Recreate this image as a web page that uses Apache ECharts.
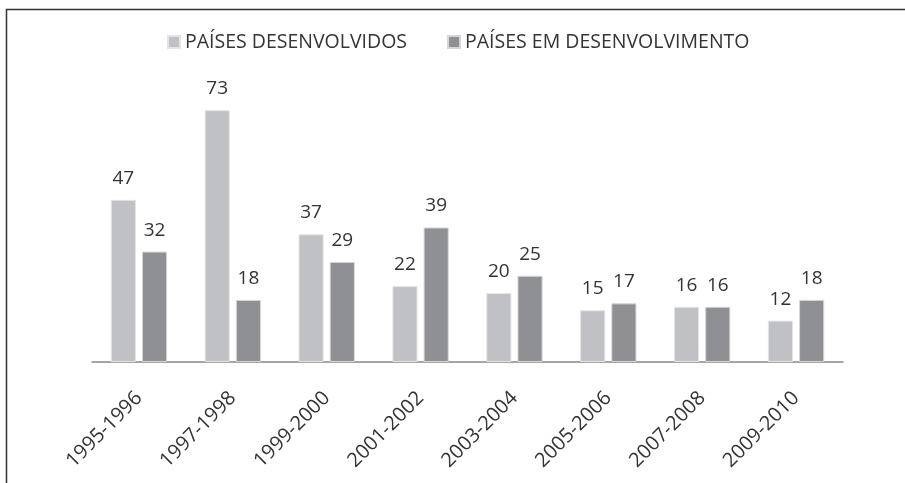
<!DOCTYPE html>
<html>
<head>
<meta charset="utf-8">
<script src="https://cdn.jsdelivr.net/npm/echarts@6/dist/echarts.min.js"></script>
<style>
html, body { margin: 0; padding: 0; background: #fff; }
#chart { width: 905px; height: 483px; }
</style>
</head>
<body>
<div id="chart"></div>
<script>
var periods = ['1995-1996', '1997-1998', '1999-2000', '2001-2002', '2003-2004', '2005-2006', '2007-2008', '2009-2010'];
var desenvolvidos = [47, 73, 37, 22, 20, 15, 16, 12];
var emDesenvolvimento = [32, 18, 29, 39, 25, 17, 16, 18];
var seriesNames = ['PAÍSES DESENVOLVIDOS', 'PAÍSES EM DESENVOLVIMENTO'];

var chart = echarts.init(document.getElementById('chart'));
var font = 'Open Sans';

var labelStyle = {
	show: true,
	position: 'top',
	distance: 12,
	color: '#333',
	fontFamily: font,
	fontSize: 19
};

option = {
	backgroundColor: '#fff',
	animation: false,
	graphic: [{
		type: 'rect',
		shape: { x: 6.5, y: 9.5, width: 1000, height: 1000 },
		style: { fill: 'none', stroke: '#333', lineWidth: 1.5 },
		silent: true
	}],
	legend: {
		top: 27,
		left: 162,
		itemWidth: 12,
		itemHeight: 12,
		itemGap: 40,
		icon: 'rect',
		textStyle: {
			color: '#333',
			fontFamily: font,
			fontSize: 19.5
		},
		data: seriesNames
	},
	grid: {
		left: 92,
		right: 62,
		top: 86,
		bottom: 121
	},
	xAxis: {
		type: 'category',
		data: periods,
		axisLine: { lineStyle: { color: '#888', width: 1.5 } },
		axisTick: { show: false },
		axisLabel: {
			rotate: 45,
			interval: 0,
			margin: 33,
			color: '#333',
			fontFamily: font,
			fontSize: 20
		}
	},
	yAxis: {
		type: 'value',
		min: 0,
		max: 80,
		show: false,
		splitLine: { show: false }
	},
	series: [{
		name: seriesNames[0],
		type: 'bar',
		data: desenvolvidos,
		barGap: '24%',
		barCategoryGap: '40%',
		itemStyle: { color: '#c0c1c5', borderColor: '#e4e4e6', borderWidth: 1 },
		label: labelStyle
	}, {
		name: seriesNames[1],
		type: 'bar',
		data: emDesenvolvimento,
		itemStyle: { color: '#8f9094', borderColor: '#d6d6d8', borderWidth: 1 },
		label: labelStyle
	}]
};

chart.setOption(option);
</script>
</body>
</html>
